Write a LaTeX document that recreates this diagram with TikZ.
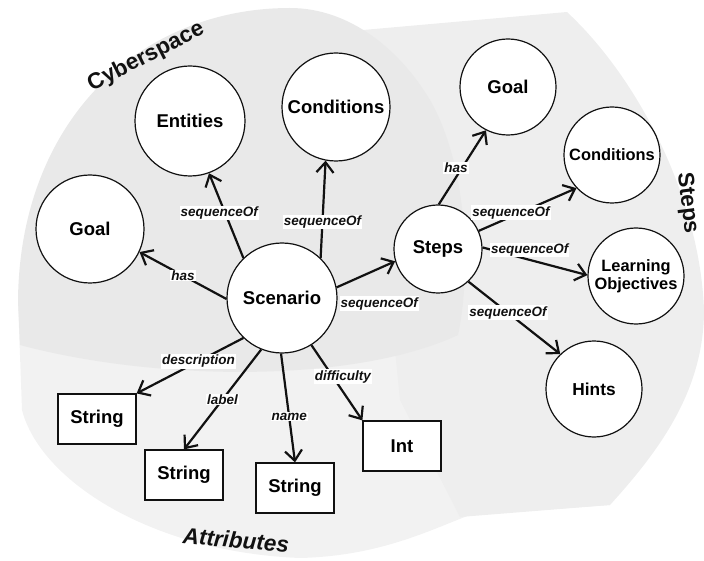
\documentclass[tikz,border=0pt]{standalone}
\usepackage{fontspec}
\setmainfont{Liberation Sans}
\usetikzlibrary{arrows.meta, positioning}
\definecolor{scnline}{HTML}{111111}
\definecolor{scncyber}{HTML}{E9E9E9}
\definecolor{scnsteps}{HTML}{EEEEEE}
\definecolor{scnattr}{HTML}{F2F2F2}
\tikzset{
  concept/.style={circle, draw=scnline, line width=1.2pt, fill=white, minimum size=110pt, inner sep=0pt,
    font=\bfseries\fontsize{18.5}{20}\selectfont, align=center},
  smallconcept/.style={concept, minimum size=96pt, font=\bfseries\fontsize{16.4}{18}\selectfont},
  valbox/.style={rectangle, draw=scnline, line width=1.2pt, fill=white, minimum width=78pt,
    minimum height=50pt, font=\bfseries\fontsize{18.5}{20}\selectfont},
  rel/.style={font=\bfseries\itshape\fontsize{13.5}{15}\selectfont, fill=white, inner sep=1pt},
  arr/.style={-{Straight Barb[length=3.6mm, width=6mm]}, line width=2.2pt, scnline},
  region/.style={font=\bfseries\fontsize{22.5}{24}\selectfont, text=scnline},
}

\begin{document}
\begin{tikzpicture}[x=1pt, y=-1pt]
    \useasboundingbox (0,0) rectangle (704,561);
    \fill[scnattr] (18,300) -- (22,410) .. controls (40,480) and (150,552) .. (300,558)
      .. controls (380,556) and (430,530) .. (470,515) -- (610,505) -- (470,330) -- cycle;
    \fill[scnsteps] (363,30) -- (567,12) .. controls (640,80) and (700,200) .. (704,310)
      .. controls (704,390) and (660,450) .. (610,505) -- (460,517) -- (400,400) -- cycle;
    \fill[scncyber] (18,300) .. controls (20,120) and (140,8) .. (290,8)
      .. controls (350,8) and (400,50) .. (430,100) .. controls (470,170) and (470,280) .. (458,335)
      .. controls (350,385) and (150,380) .. (20,345) -- cycle;

    \node[region, rotate=27] (cyberlbl) at (146,57) {Cyberspace};
    \node[region, rotate=-83] (stepslbl) at (687,203) {Steps};
    \node[region, font=\bfseries\itshape\fontsize{22.5}{24}\selectfont, rotate=-5] (attrlbl) at (236,540) {Attributes};

    \node[concept] (scen) at (282,298) {Scenario};
    \node[concept, minimum size=108pt] (cgoal) at (90,229) {Goal};
    \node[concept] (ent) at (190,121) {Entities};
    \node[concept, minimum size=108pt] (ccond) at (336,107) {Conditions};
    \node[concept, minimum size=88pt] (steps) at (438,249) {Steps};
    \node[smallconcept, font=\bfseries\fontsize{18.5}{20}\selectfont] (sgoal) at (508,87) {Goal};
    \node[smallconcept] (scond) at (612,155) {Conditions};
    \node[smallconcept] (lobj) at (636,276) {Learning\\Objectives};
    \node[smallconcept, font=\bfseries\fontsize{17.3}{19}\selectfont] (hints) at (594,389) {Hints};
    \node[valbox] (sdesc) at (97,419) {String};
    \node[valbox] (slabel) at (184,475) {String};
    \node[valbox] (sname) at (295,488) {String};
    \node[valbox] (nint) at (402,446) {Int};

    \draw[arr] (scen.181) -- node[rel]{has} (cgoal.335);
    \draw[arr] (scen.134) -- node[rel, pos=0.53, xshift=-6pt]{sequenceOf} (ent.290);
    \draw[arr] (scen.46) -- node[rel, pos=0.37]{sequenceOf} (ccond.259);
    \draw[arr] (scen.11) -- node[rel, pos=0, anchor=north west, xshift=2pt, yshift=-8pt]{sequenceOf} (steps.196);
    \draw[arr] (scen.226) -- node[rel, pos=0.42]{description} (sdesc.north east);
    \draw[arr] (scen.248) -- node[rel, pos=0.5]{label} (slabel.north);
    \draw[arr] (scen.269) -- node[rel, pos=0.58]{name} (sname.north);
    \draw[arr] (scen.302) -- node[rel, pos=0.42, xshift=10pt]{difficulty} (nint.north west);
    \draw[arr] (steps.89) -- node[rel, pos=0.49, xshift=-6pt]{has} (sgoal.243);
    \draw[arr] (steps.24) -- node[rel, pos=0.33, yshift=4pt]{sequenceOf} (scond.223);
    \draw[arr] (steps.2) -- node[rel, pos=0.45, yshift=10pt]{sequenceOf} (lobj.179);
    \draw[arr] (steps.313) -- node[rel, pos=0.43]{sequenceOf} (hints.134);
  \end{tikzpicture}
\end{document}
